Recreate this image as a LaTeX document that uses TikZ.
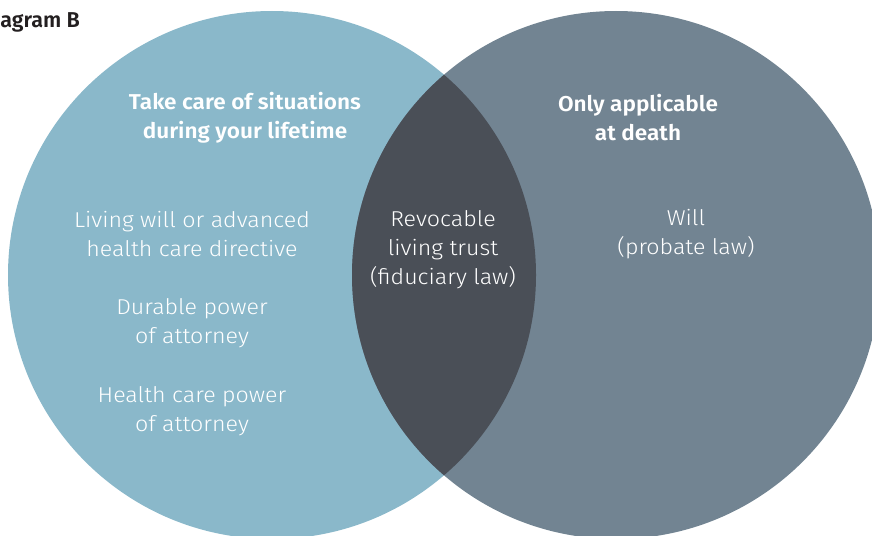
\documentclass[tikz,border=0pt]{standalone}
\usepackage{fontspec}
\setmainfont{Fira Sans Light}[BoldFont={Fira Sans SemiBold},FakeStretch=1.08]
\newfontfamily\headfont{Fira Sans SemiBold}[FakeStretch=1.05]
\newfontfamily\titlefont{Fira Sans SemiBold}
\definecolor{leftc}{HTML}{8AB8CA}
\definecolor{rightc}{HTML}{728492}
\definecolor{lensc}{HTML}{4A4F57}
\definecolor{titlec}{HTML}{231F20}
\begin{document}
\begin{tikzpicture}[x=1pt,y=-1pt,
  lbl/.style={text=white,align=center,font=\fontsize{21.5}{29}\selectfont,inner sep=0pt},
  head/.style={lbl,font=\headfont\fontsize{21.5}{29}\selectfont}]
\useasboundingbox (0,0) rectangle (872,535);
\begin{scope}
\clip (0,0) rectangle (872,535);
\fill[leftc] (272,275) circle[radius=264];
\fill[rightc] (616,275) circle[radius=264];
\begin{scope}
\clip (272,275) circle[radius=264];
\fill[lensc] (616,275) circle[radius=264];
\end{scope}
\node[anchor=east,text=titlec,font=\titlefont\fontsize{21.5}{24}\selectfont,inner sep=0pt] (title) at (80,21) {Diagram B};
\end{scope}
\node[head] (h1) at (245,118) {Take care of situations\\during your lifetime};
\node[head] (h2) at (638,118) {Only applicable\\at death};
\node[lbl] (a1) at (192,234) {Living will or advanced\\health care directive};
\node[lbl] (a2) at (192,323) {Durable power\\of attorney};
\node[lbl] (a3) at (192,411) {Health care power\\of attorney};
\node[lbl] (c1) at (443,250) {Revocable\\living trust\\(fiduciary law)};
\node[lbl] (b1) at (686,234) {Will\\(probate law)};
\end{tikzpicture}
\end{document}
